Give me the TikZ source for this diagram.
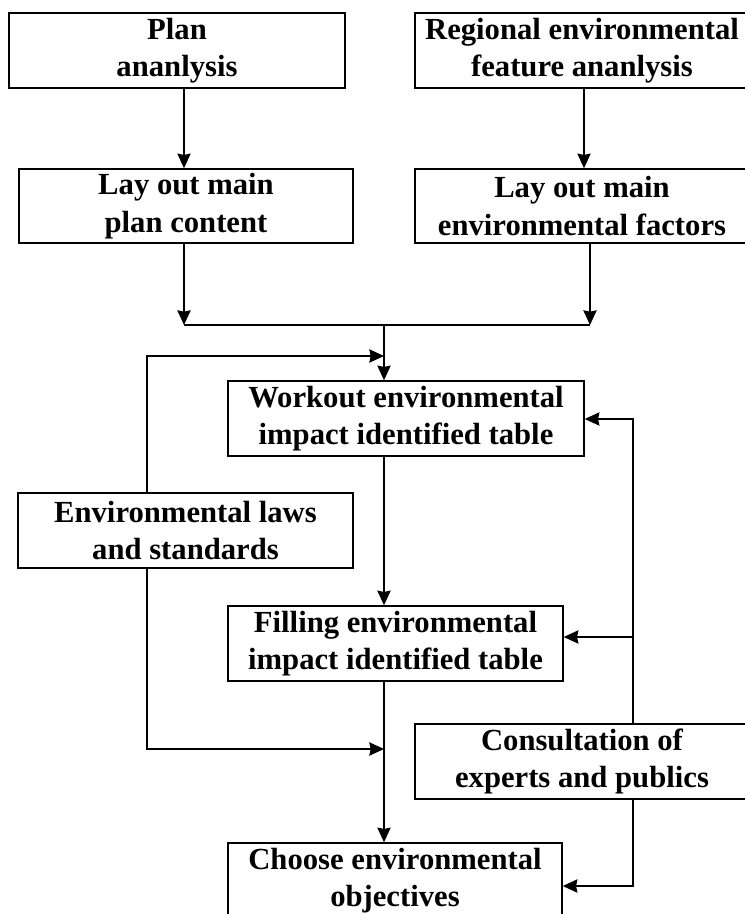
\documentclass[tikz,border=0pt]{standalone}
\usepackage{fontspec}
\setmainfont{Liberation Serif}
\usetikzlibrary{arrows.meta}
\begin{document}
\begin{tikzpicture}[x=0.75pt,y=-0.75pt,
  box/.style={draw,line width=1.1pt,rectangle,inner sep=0pt,align=center,
    minimum height=56.25pt,
    font=\fontsize{23}{28}\selectfont\bfseries},
  conn/.style={line width=1pt},
  arr/.style={conn,-{Stealth[length=11pt,width=10pt,inset=1pt]}}]
\useasboundingbox (0,0) rectangle (744,914);
% boxes
\node[box,minimum width=252pt] (plan) at (177,50.5) {Plan\\ananlysis};
\node[box,minimum width=250.5pt] (region) at (582,50.5) {Regional environmental\\feature ananlysis};
\node[box,minimum width=250.5pt,minimum height=55.5pt] (layplan) at (186,206) {Lay out main\\plan content};
\node[box,minimum width=250.5pt,minimum height=55.5pt] (layenv) at (582,206) {Lay out main\\environmental factors};
\node[box,minimum width=267pt] (workout) at (406,418.5) {Workout environmental\\impact identified table};
\node[box,minimum width=251.25pt] (envlaws) at (185.5,530.5) {Environmental laws\\and standards};
\node[box,minimum width=251.25pt] (filling) at (395.5,643.5) {Filling environmental\\impact identified table};
\node[box,minimum width=250.5pt] (consult) at (582,761.5) {Consultation of\\experts and publics};
\node[box,minimum width=250.5pt] (choose) at (395,880.5) {Choose environmental\\objectives};
% junction coordinates
\coordinate (jl) at (184,325);
\coordinate (jr) at (590,325);
\coordinate (jc) at (384,325);
\coordinate (ra) at (584,100);
\coordinate (fb) at (147,356);
\coordinate (rt) at (633,419);
\coordinate (rf) at (633,637);
\coordinate (lb) at (147,749);
\coordinate (rb) at (633,886);
% connectors
\draw[arr] (plan.south -| jl) -- (layplan.north -| jl);
\draw[arr] (region.south -| ra) -- (layenv.north -| ra);
\draw[arr] (layplan.south -| jl) -- (jl);
\draw[arr] (layenv.south -| jr) -- (jr);
\draw[conn] (jl) -- (jr);
\draw[arr] (jc) -- (workout.north -| jc);
\draw[arr] (envlaws.north -| fb) -- (fb) -- (jc |- fb);
\draw[arr] (consult.north -| rt) -- (rt) -- (rt -| workout.east);
\draw[arr] (rf) -- (rf -| filling.east);
\draw[arr] (workout.south -| jc) -- (filling.north -| jc);
\draw[arr] (envlaws.south -| lb) -- (lb) -- (lb -| jc);
\draw[arr] (filling.south -| jc) -- (choose.north -| jc);
\draw[arr] (consult.south -| rb) -- (rb) -- (rb -| choose.east);
\end{tikzpicture}
\end{document}
